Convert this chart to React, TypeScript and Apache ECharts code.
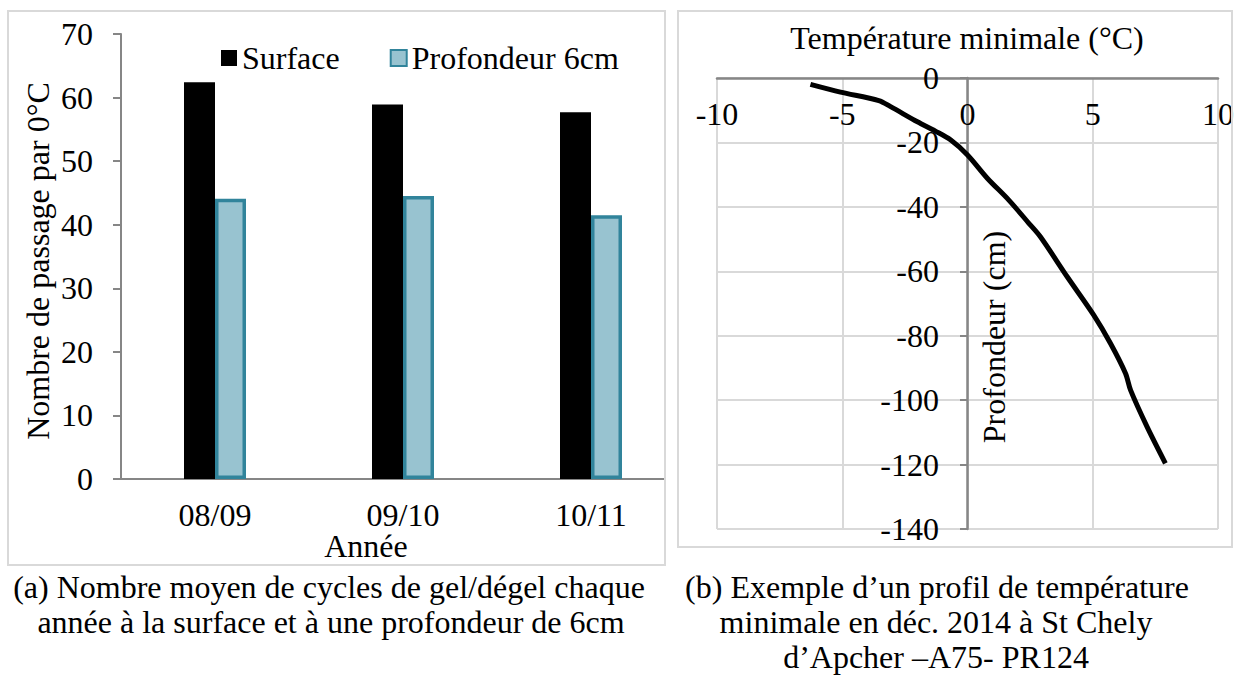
import React, { useEffect, useRef } from "react";
import * as echarts from "echarts";

// ---- Data ----
const categories = ["08/09", "09/10", "10/11"];
const surfaceValues = [62.4, 58.9, 57.7];
const depth6Values = [44.1, 44.5, 41.5];

const profileTemps = [-6.27, -5.07, -3.54, -3.07, -2.0, -1.28, -0.68, 0.0, 0.79, 1.65, 2.45, 2.91, 3.98, 5.04, 5.71, 6.31, 6.51, 7.17, 7.9];
const profileDepths = [-2, -4.4, -7, -8.9, -13.6, -16.5, -19.2, -23.9, -31.1, -37.9, -45.1, -49.3, -61.7, -73.6, -82.4, -91.7, -96.9, -108.3, -119.6];

const FONT = "'Liberation Serif', 'Times New Roman', serif";
const FS = 32;
const AXIS_GRAY = "#868686";
const GRID_GRAY = "#D9D9D9";

export default function App() {
  const ref = useRef<HTMLDivElement>(null);

  useEffect(() => {
    if (!ref.current) return;
    const chart = echarts.init(ref.current, undefined, { renderer: "svg" });

    const txt = (text: string, x: number, y: number, extra: any = {}) => ({
      type: "text",
      x,
      y,
      z: 120,
      ...extra,
      style: { text, fontSize: FS, fontFamily: FONT, fill: "#000", align: "center", verticalAlign: "middle" },
    });

    const option: any = {
      animation: false,
      backgroundColor: "#fff",
      legend: {
        left: 216,
        top: 37,
        itemWidth: 16,
        itemHeight: 16,
        itemGap: 50,
        icon: "rect",
        textStyle: { fontSize: FS, fontFamily: FONT, color: "#000" },
        data: ["Surface", "Profondeur 6cm"],
      },
      grid: [
        { left: 121, top: 34, width: 564, height: 445, containLabel: false, outerBoundsMode: "none" },
        { left: 717, top: 78, width: 501, height: 451, containLabel: false, outerBoundsMode: "none" },
      ],
      xAxis: [
        {
          type: "category",
          gridIndex: 0,
          data: categories,
          axisLine: { lineStyle: { color: AXIS_GRAY, width: 2 } },
          axisTick: { show: false },
          axisLabel: { fontSize: FS, fontFamily: FONT, color: "#000", margin: 20 },
          splitLine: { show: false },
        },
        {
          type: "value",
          gridIndex: 1,
          min: -10,
          max: 10,
          interval: 5,
          position: "bottom",
          offset: -451,
          axisLine: { onZero: false, lineStyle: { color: AXIS_GRAY, width: 2.5 } },
          axisTick: { show: false },
          axisLabel: { fontSize: FS, fontFamily: FONT, color: "#000", margin: 20 },
          splitLine: { show: true, lineStyle: { color: GRID_GRAY, width: 2 } },
        },
      ],
      yAxis: [
        {
          type: "value",
          gridIndex: 0,
          min: 0,
          max: 70,
          interval: 10,
          axisLine: { show: true, lineStyle: { color: AXIS_GRAY, width: 2 } },
          axisTick: { show: true, length: 8, lineStyle: { color: AXIS_GRAY, width: 2 } },
          axisLabel: { fontSize: FS, fontFamily: FONT, color: "#000", margin: 28 },
          splitLine: { show: false },
        },
        {
          type: "value",
          gridIndex: 1,
          min: -140,
          max: 0,
          interval: 20,
          position: "left",
          offset: -250,
          axisLine: { show: true, onZero: false, lineStyle: { color: AXIS_GRAY, width: 2.5 } },
          axisTick: { show: true, length: 7, lineStyle: { color: AXIS_GRAY, width: 2 } },
          axisLabel: { fontSize: FS, fontFamily: FONT, color: "#000", margin: 28 },
          splitLine: { show: true, lineStyle: { color: GRID_GRAY, width: 2 } },
        },
      ],
      series: [
        {
          name: "Surface",
          type: "bar",
          xAxisIndex: 0,
          yAxisIndex: 0,
          data: surfaceValues,
          barWidth: 31,
          barGap: "0%",
          itemStyle: { color: "#000000" },
        },
        {
          name: "Profondeur 6cm",
          type: "bar",
          xAxisIndex: 0,
          yAxisIndex: 0,
          data: depth6Values,
          barWidth: 31,
          barGap: "0%",
          itemStyle: { color: "#98C3D0", borderColor: "#31849B", borderWidth: 3.5 },
        },
        {
          name: "Profil",
          type: "line",
          xAxisIndex: 1,
          yAxisIndex: 1,
          data: profileTemps.map((t, i) => [t, profileDepths[i]]),
          showSymbol: false,
          symbol: "none",
          smooth: 0.3,
          z: 5,
          lineStyle: { color: "#000", width: 5 },
        },
      ],
      graphic: [
        // mask for the part of the left x-axis beyond its frame
        { type: "rect", z: 100, shape: { x: 666, y: 468, width: 26, height: 22 }, style: { fill: "#fff" } },
        // frames
        { type: "rect", z: 101, shape: { x: 8, y: 11, width: 657, height: 554 }, style: { fill: "none", stroke: GRID_GRAY, lineWidth: 2 } },
        { type: "rect", z: 101, shape: { x: 678, y: 11, width: 554, height: 536 }, style: { fill: "none", stroke: GRID_GRAY, lineWidth: 2 } },
        // axis names
        txt("Nombre de passage par 0°C", 38, 261, { rotation: Math.PI / 2 }),
        txt("Année", 366, 546),
        txt("Température minimale (°C)", 967, 38),
        txt("Profondeur (cm)", 994, 337, { rotation: Math.PI / 2 }),
        // captions
        txt("(a) Nombre moyen de cycles de gel/dégel chaque", 329, 587),
        txt("année à la surface et à une profondeur de 6cm", 331, 622),
        txt("(b) Exemple d’un profil de température", 937, 587),
        txt("minimale en déc. 2014 à St Chely", 936, 622),
        txt("d’Apcher –A75- PR124", 936, 657),
      ],
    };

    chart.setOption(option);
    return () => chart.dispose();
  }, []);

  return (
    <div
      ref={ref}
      style={{ position: "fixed", left: 0, top: 0, width: 1240, height: 675, background: "#fff" }}
    />
  );
}
